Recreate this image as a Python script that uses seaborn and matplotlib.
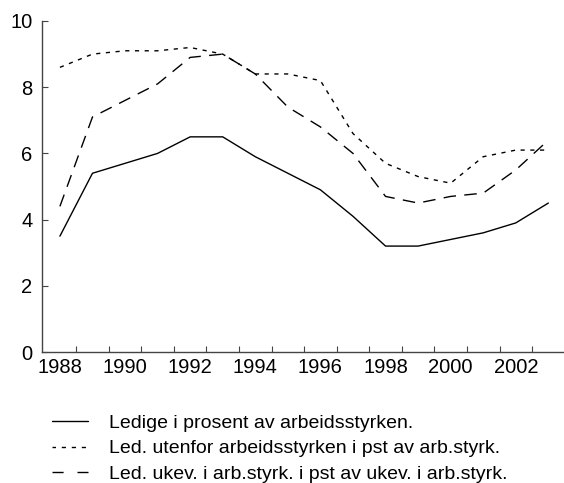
import numpy as np
import pandas as pd
import matplotlib
matplotlib.use('Agg')
import matplotlib.pyplot as plt
from matplotlib.lines import Line2D
import seaborn as sns

years = list(range(1988, 2004))
ledige = [3.5, 5.4, 5.7, 6.0, 6.5, 6.5, 5.9, 5.4, 4.9, 4.1, 3.2, 3.2, 3.4, 3.6, 3.9, 4.5]
utenfor = [8.6, 9.0, 9.1, 9.1, 9.2, 9.0, 8.4, 8.4, 8.2, 6.6, 5.7, 5.3, 5.1, 5.9, 6.1, 6.1]
ukev = [4.4, 7.1, 7.6, 8.1, 8.9, 9.0, 8.4, 7.4, 6.8, 6.0, 4.7, 4.5, 4.7, 4.8, 5.5, 6.4]
labels = ['Ledige i prosent av arbeidsstyrken.',
          'Led. utenfor arbeidsstyrken i pst av arb.styrk.',
          'Led. ukev. i arb.styrk. i pst av ukev. i arb.styrk.']

sns.set_style('ticks')
plt.rcParams['font.family'] = ['Liberation Sans', 'DejaVu Sans']
plt.rcParams['text.color'] = 'black'
plt.rcParams['xtick.labelcolor'] = 'black'
plt.rcParams['ytick.labelcolor'] = 'black'

fig = plt.figure(figsize=(5.64, 4.83), dpi=100)
ax = fig.add_axes([42 / 564, 1 - 352 / 483, (563 - 42) / 564, (352 - 21) / 483])

df = pd.DataFrame({'year': years, 'ledige': ledige, 'utenfor': utenfor, 'ukev': ukev})
styles = [('ledige', '-'), ('utenfor', (0, (3, 4))), ('ukev', (0, (9, 6)))]
for col, ls in styles:
    sns.lineplot(data=df, x='year', y=col, ax=ax, color='black', lw=1.0, linestyle=ls)

ax.set_xlim(1987.45, 2003.45)
ax.set_ylim(0, 10)
ax.set_xticks(np.arange(1988.5, 2003, 1))
ax.set_xticklabels([])
ax.set_xticks(range(1988, 2004, 2), minor=True)
ax.set_xticklabels([str(y) for y in range(1988, 2004, 2)], minor=True)
ax.tick_params(axis='x', which='minor', length=0, pad=4, labelsize=14.5)
ax.tick_params(axis='x', which='major', direction='in', length=4, width=0.8, color='#444444')
ax.set_yticks(range(0, 11, 2))
ax.tick_params(axis='y', direction='in', length=4, width=0.8, color='#444444', labelsize=14.5, pad=7)
ax.set_xlabel('')
ax.set_ylabel('')
sns.despine(ax=ax)
for s in ['left', 'bottom']:
    ax.spines[s].set_color('#444444')
    ax.spines[s].set_linewidth(1.0)

# legend keys drawn like the original (short keys)
handles = [Line2D([], [], color='black', lw=1.0, linestyle='-'),
           Line2D([], [], color='black', lw=1.0, linestyle=(0.5, (3, 4.2))),
           Line2D([], [], color='black', lw=1.0, linestyle=(0, (8, 10)))]
fig.legend(handles, labels, loc='upper left', bbox_to_anchor=(52 / 564, 1 - 414 / 483),
           frameon=False, fontsize=14, handlelength=1.85, handletextpad=1.1,
           labelspacing=0.42, borderpad=0, borderaxespad=0)

fig.savefig('out.png', dpi=100)
